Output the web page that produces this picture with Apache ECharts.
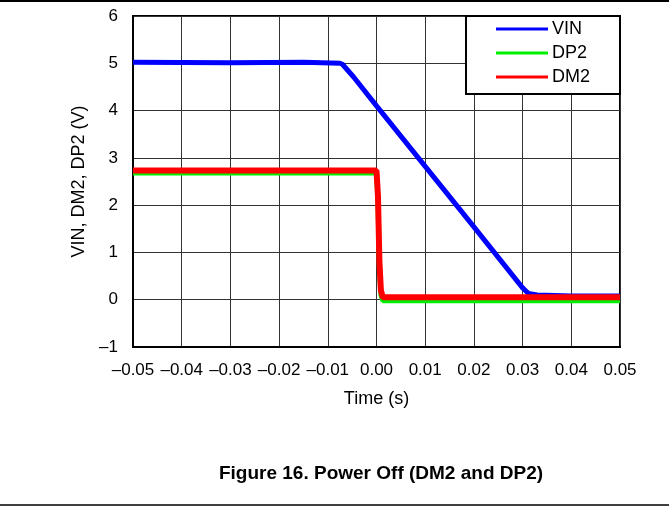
<!DOCTYPE html>
<html>
<head>
<meta charset="utf-8">
<script src="https://cdn.jsdelivr.net/npm/echarts@6/dist/echarts.min.js"></script>
<style>
html,body{margin:0;padding:0;background:#fff;}
#chart{width:669px;height:506px;}
</style>
</head>
<body>
<div id="chart"></div>
<script>
// ---- data ----
var seriesNames = ['VIN', 'DP2', 'DM2'];
var vinTime = [-0.05, -0.03, -0.015, -0.0075, -0.007, -0.0047, 0.0, 0.01, 0.02, 0.03, 0.0312, 0.033, 0.04, 0.05];
var vinValue = [5.02, 5.01, 5.02, 5.0, 4.98, 4.71, 4.10, 2.82, 1.54, 0.25, 0.13, 0.10, 0.08, 0.08];
var dm2Time = [-0.05, 0.0, 0.0001, 0.0003, 0.0006, 0.0009, 0.0013, 0.02, 0.05];
var dm2Value = [2.73, 2.73, 2.72, 2.2, 0.8, 0.2, 0.05, 0.05, 0.05];
var dp2Time = [-0.05, 0.0, 0.0001, 0.0003, 0.0006, 0.0009, 0.0013, 0.02, 0.05];
var dp2Value = [2.68, 2.68, 2.67, 2.1, 0.7, 0.1, -0.02, -0.02, -0.02];
var xTickLabels = ['\u20130.05', '\u20130.04', '\u20130.03', '\u20130.02', '\u20130.01', '0.00', '0.01', '0.02', '0.03', '0.04', '0.05'];
var yTickLabels = ['\u20131', '0', '1', '2', '3', '4', '5', '6'];
var xAxisTitle = 'Time (s)';
var yAxisTitle = 'VIN, DM2, DP2 (V)';
var caption = 'Figure 16. Power Off (DM2 and DP2)';

function zip(a, b) { return a.map(function (v, i) { return [v, b[i]]; }); }

var FONT = '"Liberation Sans", Arial, sans-serif';
var chart = echarts.init(document.getElementById('chart'));
chart.setOption({
  animation: false,
  backgroundColor: '#fff',
  grid: { left: 133, top: 16, width: 487, height: 331, show: true, borderColor: '#000', borderWidth: 2, backgroundColor: 'transparent', containLabel: false },
  xAxis: {
    type: 'value', min: -0.05, max: 0.05, interval: 0.01,
    name: xAxisTitle, nameLocation: 'middle', nameGap: 43,
    nameTextStyle: { fontFamily: FONT, fontSize: 18, color: '#000' },
    axisLine: { show: true, onZero: false, lineStyle: { color: '#000', width: 2 } },
    axisTick: { show: false },
    axisLabel: {
      fontFamily: FONT, fontSize: 17, color: '#000', margin: 15,
      formatter: function (v) { var i = Math.round((v + 0.05) / 0.01); return xTickLabels[i]; }
    },
    splitLine: { show: true, lineStyle: { color: '#333', width: 1 } }
  },
  yAxis: {
    type: 'value', min: -1, max: 6, interval: 1,
    name: yAxisTitle, nameLocation: 'middle', nameGap: 44, nameRotate: 90,
    nameTextStyle: { fontFamily: FONT, fontSize: 18, color: '#000' },
    axisLine: { show: true, onZero: false, lineStyle: { color: '#000', width: 2 } },
    axisTick: { show: false },
    axisLabel: {
      fontFamily: FONT, fontSize: 17, color: '#000', margin: 15,
      formatter: function (v) { return yTickLabels[Math.round(v + 1)]; }
    },
    splitLine: { show: true, lineStyle: { color: '#333', width: 1 } }
  },
  legend: {
    data: seriesNames, orient: 'vertical', right: 49, top: 16,
    icon: 'rect', itemWidth: 52, itemHeight: 3, itemGap: 6,
    backgroundColor: '#fff', borderColor: '#000', borderWidth: 2,
    padding: [4, 30, 8, 30],
    textStyle: { fontFamily: FONT, fontSize: 18, color: '#000', padding: [0, 0, 0, -1] }
  },
  series: [
    { name: 'VIN', type: 'line', data: zip(vinTime, vinValue), showSymbol: false, symbol: 'none', color: '#0000ff', lineStyle: { color: '#0000ff', width: 5 } },
    { name: 'DP2', type: 'line', data: zip(dp2Time, dp2Value), showSymbol: false, symbol: 'none', color: '#00ee00', lineStyle: { color: '#00ee00', width: 5 } },
    { name: 'DM2', type: 'line', data: zip(dm2Time, dm2Value), showSymbol: false, symbol: 'none', color: '#ff0000', lineStyle: { color: '#ff0000', width: 6 } }
  ],
  graphic: [
    { type: 'line', shape: { x1: 0, y1: 1, x2: 669, y2: 1 }, style: { stroke: '#000', lineWidth: 2 } },
    { type: 'line', shape: { x1: 0, y1: 505, x2: 669, y2: 505 }, style: { stroke: '#000', lineWidth: 1.5 } },
    { type: 'text', x: 381, y: 474, style: { text: caption, fontFamily: FONT, fontSize: 19, fontWeight: 'bold', fill: '#000', align: 'center', verticalAlign: 'middle' } }
  ]
});
</script>
</body>
</html>
